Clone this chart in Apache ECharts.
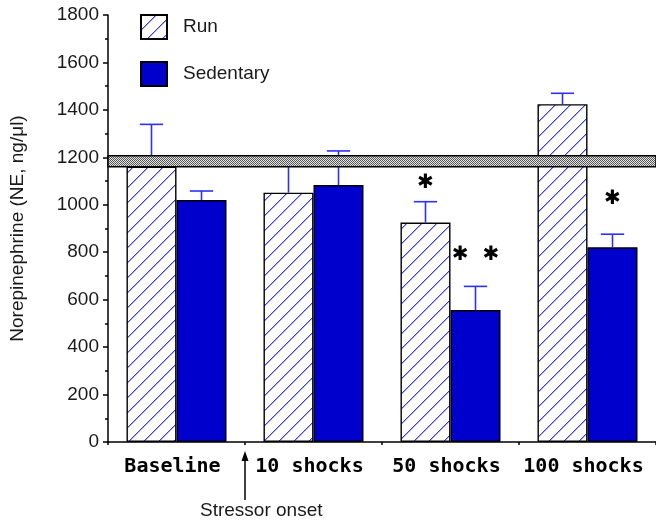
<!DOCTYPE html>
<html>
<head>
<meta charset="utf-8">
<script src="https://cdn.jsdelivr.net/npm/echarts@6/dist/echarts.min.js"></script>
<style>
html,body{margin:0;padding:0;background:#fff;}
#c{width:656px;height:521px;}
</style>
</head>
<body>
<div id="c"></div>
<script>
// ---- data ----
const categories = ['Baseline', '10 shocks', '50 shocks', '100 shocks'];
const runValues = [1161, 1051, 925, 1424];
const runErrTop = [1339, 1188, 1013, 1470];
const sedValues = [1020, 1083, 556, 821];
const sedErrTop = [1058, 1227, 656, 876];
const yTicks = [0, 200, 400, 600, 800, 1000, 1200, 1400, 1600, 1800];
const referenceBand = [1160, 1207];
const runStars = ['', '', '✱', ''];
const runStarLevel = [0, 0, 1092, 0];
const sedStars = ['', '', '✱  ✱', '✱'];
const sedStarLevel = [0, 0, 788, 1027];

// ---- patterns ----
function hatchPattern() {
  const s = 15;
  const cv = document.createElement('canvas');
  cv.width = s; cv.height = s;
  const ctx = cv.getContext('2d');
  ctx.fillStyle = '#ffffff';
  ctx.fillRect(0, 0, s, s);
  for (let i = 0; i < s; i++) {
    ctx.fillStyle = '#a8a8ff';
    ctx.fillRect((i + 1) % s, s - 1 - i, 1, 1);
    ctx.fillStyle = '#3a3aff';
    ctx.fillRect(i, s - 1 - i, 1, 1);
  }
  return cv;
}
function stipplePattern() {
  const cv = document.createElement('canvas');
  cv.width = 2; cv.height = 2;
  const ctx = cv.getContext('2d');
  ctx.fillStyle = '#e6e6e6';
  ctx.fillRect(0, 0, 2, 2);
  ctx.fillStyle = '#555555';
  ctx.fillRect(0, 0, 1, 1);
  ctx.fillRect(1, 1, 1, 1);
  return cv;
}
const hatch = { image: hatchPattern(), repeat: 'repeat' };
const stipple = { image: stipplePattern(), repeat: 'repeat' };

const BAR_FRAC = 0.365;
const CAP_FRAC = 0.17;
const ERR_COLOR = '#2f2ff5';

const errData = [];
categories.forEach((c, i) => {
  errData.push([i, runValues[i], runErrTop[i], 0]);
  errData.push([i, sedValues[i], sedErrTop[i], 1]);
});
const starData = [];
categories.forEach((c, i) => {
  if (runStars[i]) starData.push([i, runStarLevel[i], 0, runStars[i]]);
  if (sedStars[i]) starData.push([i, sedStarLevel[i], 1, sedStars[i]]);
});

const chart = echarts.init(document.getElementById('c'), null, { renderer: 'canvas' });
const TXT = '#1a1a1a';
chart.setOption({
  animation: false,
  backgroundColor: '#ffffff',
  grid: { left: 106, top: 15, width: 553, height: 427 },
  legend: {
    orient: 'vertical',
    left: 140, top: 14,
    padding: 0,
    icon: 'rect',
    itemWidth: 26, itemHeight: 24, itemGap: 21,
    textStyle: { fontFamily: 'Liberation Sans', fontSize: 19, color: TXT, padding: [0, 0, 0, 11] },
    data: ['Run', 'Sedentary']
  },
  xAxis: {
    type: 'category',
    data: categories,
    axisLine: { lineStyle: { color: '#000', width: 1.5 } },
    axisTick: { show: true, length: 3, interval: 0, lineStyle: { color: '#000', width: 1.5 } },
    axisLabel: {
      interval: 0, margin: 15,
      fontFamily: 'DejaVu Sans Mono', fontWeight: 'bold', fontSize: 20, color: '#000',
      padding: [0, 8, 0, 0]
    },
    splitLine: { show: false }
  },
  yAxis: {
    type: 'value',
    min: 0, max: 1800, interval: 200,
    name: 'Norepinephrine (NE, ng/\u03bcl)',
    nameLocation: 'middle',
    nameGap: 81,
    nameTextStyle: { fontFamily: 'Liberation Sans', fontSize: 19, color: TXT },
    axisLine: { show: true, lineStyle: { color: '#000', width: 1.5 } },
    axisTick: { show: true, length: 5, lineStyle: { color: '#000', width: 1.5 } },
    minorTick: { show: true, splitNumber: 2, length: 3, lineStyle: { color: '#000', width: 1.5 } },
    axisLabel: {
      fontFamily: 'Liberation Sans', fontSize: 19, color: TXT, margin: 9,
      customValues: yTicks,
      formatter: function (v) { return String(v); }
    },
    splitLine: { show: false }
  },
  series: [
    {
      name: 'Run', type: 'bar', data: runValues,
      barWidth: (BAR_FRAC * 100) + '%', barGap: '0%',
      itemStyle: { color: hatch, borderColor: '#000', borderWidth: 1.4 },
      z: 2
    },
    {
      name: 'Sedentary', type: 'bar', data: sedValues,
      barWidth: (BAR_FRAC * 100) + '%', barGap: '0%',
      itemStyle: { color: '#0000cc', borderColor: '#000', borderWidth: 1.4 },
      z: 2
    },
    {
      type: 'custom', name: 'err', z: 3,
      data: errData,
      encode: { x: 0, y: 2 },
      renderItem: function (params, api) {
        const cat = api.value(0), v = api.value(1), e = api.value(2), side = api.value(3);
        const band = api.size([1, 0])[0];
        const bw = band * BAR_FRAC;
        const p0 = api.coord([cat, v]);
        const p1 = api.coord([cat, e]);
        const x = p0[0] + (side === 0 ? -bw / 2 : bw / 2);
        const cw = band * CAP_FRAC;
        const st = { stroke: ERR_COLOR, lineWidth: 1.6 };
        return {
          type: 'group',
          children: [
            { type: 'line', shape: { x1: x, y1: p0[1], x2: x, y2: p1[1] }, style: st },
            { type: 'line', shape: { x1: x - cw / 2, y1: p1[1], x2: x + cw / 2, y2: p1[1] }, style: st }
          ]
        };
      }
    },
    {
      type: 'custom', name: 'band', z: 4,
      data: [[0, referenceBand[0], referenceBand[1]]],
      encode: { x: 0, y: 2 },
      renderItem: function (params, api) {
        const lo = api.coord([0, api.value(1)])[1];
        const hi = api.coord([0, api.value(2)])[1];
        const cs = params.coordSys;
        return {
          type: 'rect',
          shape: { x: cs.x, y: hi, width: cs.width, height: lo - hi },
          style: { fill: stipple, stroke: '#000', lineWidth: 1.5 }
        };
      }
    },
    {
      type: 'custom', name: 'stars', z: 5,
      data: starData,
      encode: { x: 0, y: 1 },
      renderItem: function (params, api) {
        const cat = api.value(0), v = api.value(1), side = api.value(2);
        const txt = starData[params.dataIndex][3];
        const band = api.size([1, 0])[0];
        const bw = band * BAR_FRAC;
        const p = api.coord([cat, v]);
        const x = p[0] + (side === 0 ? -bw / 2 : bw / 2);
        return {
          type: 'text',
          x: x, y: p[1],
          style: {
            text: txt, fill: '#000',
            fontFamily: 'DejaVu Sans', fontSize: 20, fontWeight: 'bold',
            align: 'center', verticalAlign: 'middle'
          }
        };
      }
    }
  ]
});

// stressor onset annotation at the boundary between the first two categories
const c0 = chart.convertToPixel({ xAxisIndex: 0 }, 0);
const c1 = chart.convertToPixel({ xAxisIndex: 0 }, 1);
const bx = (c0 + c1) / 2;
const y0 = chart.convertToPixel({ yAxisIndex: 0 }, 0);
chart.setOption({
  graphic: [
    {
      type: 'line',
      shape: { x1: bx, y1: y0 + 58, x2: bx, y2: y0 + 16 },
      style: { stroke: '#000', lineWidth: 1.5 }
    },
    {
      type: 'polygon',
      shape: { points: [[bx, y0 + 9], [bx - 3.5, y0 + 19], [bx + 3.5, y0 + 19]] },
      style: { fill: '#000' }
    },
    {
      type: 'text',
      x: bx - 45, y: y0 + 69,
      style: {
        text: 'Stressor onset', fill: TXT,
        fontFamily: 'Liberation Sans', fontSize: 19,
        align: 'left', verticalAlign: 'middle'
      }
    }
  ]
});
</script>
</body>
</html>
